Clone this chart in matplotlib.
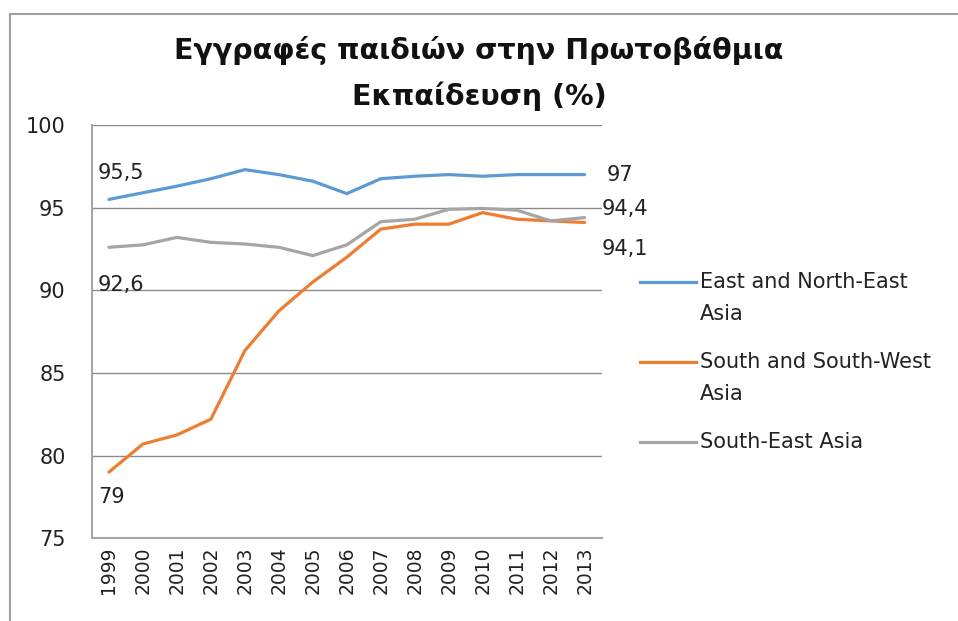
import numpy as np
import matplotlib.pyplot as plt
from matplotlib.lines import Line2D

# Δεδομένα (τιμές εκτιμημένες από το διάγραμμα)
years = [str(y) for y in range(1999, 2014)]
east_ne_asia = [95.5, 95.9, 96.3, 96.75, 97.3, 97.0, 96.6, 95.85, 96.75, 96.9, 97.0, 96.9, 97.0, 97.0, 97.0]
south_sw_asia = [79.0, 80.7, 81.25, 82.2, 86.35, 88.75, 90.5, 92.0, 93.7, 94.0, 94.0, 94.7, 94.3, 94.2, 94.1]
south_east_asia = [92.6, 92.75, 93.2, 92.9, 92.8, 92.6, 92.1, 92.75, 94.15, 94.3, 94.9, 94.95, 94.85, 94.2, 94.4]

series_names = ['East and North-East\nAsia', 'South and South-West\nAsia', 'South-East Asia']
series_values = [east_ne_asia, south_sw_asia, south_east_asia]
colors = ['#5B9BD5', '#ED7D31', '#A5A5A5']

yticks = [75, 80, 85, 90, 95, 100]
title = 'Εγγραφές παιδιών στην Πρωτοβάθμια\nΕκπαίδευση (%)'

plt.rcParams['font.family'] = ['DejaVu Sans']

fig = plt.figure(figsize=(9.58, 6.21), dpi=100)
ax = fig.add_axes([0.096, 0.1333, 0.532, 0.6654])

x = np.arange(len(years))
for vals, c in zip(series_values, colors):
    ax.plot(x, vals, color=c, lw=2.3, solid_capstyle='round')

ax.set_xlim(-0.5, len(years) - 0.5)
ax.set_ylim(75, 100)
ax.set_yticks(yticks)
ax.set_xticks(x)
ax.set_xticklabels(years, rotation=90)
ax.tick_params(axis='y', length=0, pad=19, labelsize=15, colors='#222222')
ax.tick_params(axis='x', length=0, pad=6, labelsize=13.5, colors='#222222')
ax.grid(axis='y', color='#8c8c8c', lw=1)
ax.set_axisbelow(True)
for s in ['top', 'right']:
    ax.spines[s].set_visible(False)
for s in ['left', 'bottom']:
    ax.spines[s].set_color('#a6a6a6')
    ax.spines[s].set_linewidth(1.5)


def fmt(v):
    return ('%g' % round(v, 1)).replace('.', ',')


# Ετικέτες δεδομένων: πρώτη και τελευταία τιμή
lab_kw = dict(fontsize=15, color='#222222', textcoords='offset points')
ax.annotate(fmt(east_ne_asia[0]), (x[0], east_ne_asia[0]), xytext=(-8, 19), ha='left', va='center', **lab_kw)
ax.annotate(fmt(south_east_asia[0]), (x[0], south_east_asia[0]), xytext=(-8, -27), ha='left', va='center', **lab_kw)
ax.annotate(fmt(south_sw_asia[0]), (x[0], south_sw_asia[0]), xytext=(-8, -18), ha='left', va='center', **lab_kw)
ax.annotate(fmt(east_ne_asia[-1]), (x[-1], east_ne_asia[-1]), xytext=(16, 0), ha='left', va='center', **lab_kw)
ax.annotate(fmt(south_east_asia[-1]), (x[-1], south_east_asia[-1]), xytext=(12, 6), ha='left', va='center', **lab_kw)
ax.annotate(fmt(south_sw_asia[-1]), (x[-1], south_sw_asia[-1]), xytext=(12, -19), ha='left', va='center', **lab_kw)

# Υπόμνημα δεξιά
leg_y = [1 - 282 / 621, 1 - 362 / 621, 1 - 442 / 621]
for name, c, yy in zip(series_names, colors, leg_y):
    fig.add_artist(Line2D([640 / 958, 696 / 958], [yy, yy], color=c, lw=2.3))
    fig.text(700 / 958, yy + 10 / 621, name, fontsize=15, color='#222222', va='top',
             linespacing=1.75)

fig.suptitle(title, x=0.5, y=1 - 36 / 621, va='top', fontsize=20.5, fontweight='bold',
             linespacing=1.7, color='#111111')

# Περίγραμμα
fig.add_artist(Line2D([9.5 / 958, 1], [1 - 13.5 / 621, 1 - 13.5 / 621], color='#a0a0a0', lw=1.5))
fig.add_artist(Line2D([9.5 / 958, 9.5 / 958], [0, 1 - 13.5 / 621], color='#a0a0a0', lw=1.5))

fig.savefig('out.png', dpi=100)
